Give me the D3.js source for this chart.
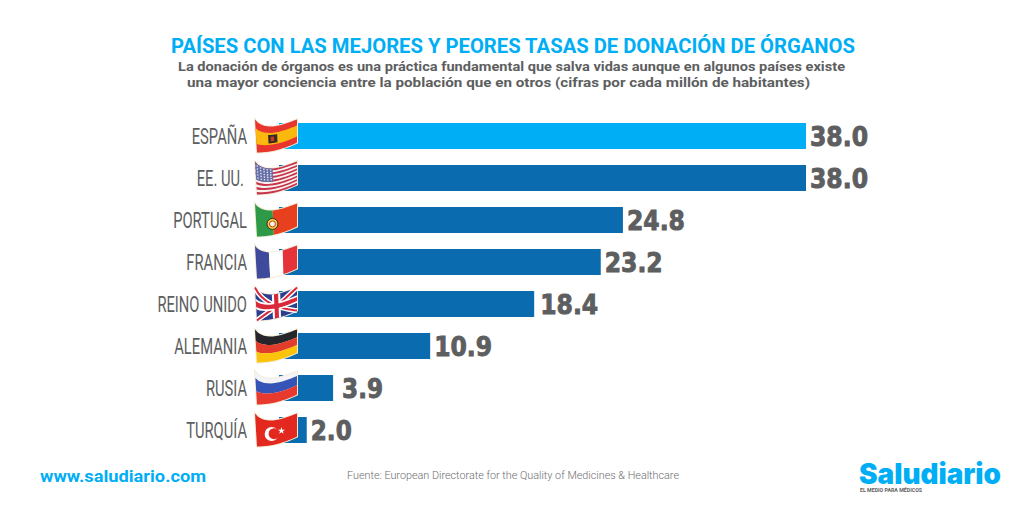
<!DOCTYPE html>
<html>
<head>
<meta charset="utf-8">
<script src="https://cdn.jsdelivr.net/npm/d3@7"></script>
<style>
html, body { margin: 0; padding: 0; background: #fff; overflow: hidden; }
svg { display: block; }
</style>
</head>
<body>
<svg id="chart" width="1024" height="512"></svg>
<script>
var countries = ["ESPAÑA", "EE. UU.", "PORTUGAL", "FRANCIA", "REINO UNIDO", "ALEMANIA", "RUSIA", "TURQUÍA"]
var rates = [38.0, 38.0, 24.8, 23.2, 18.4, 10.9, 3.9, 2.0]
var rateLabels = ["38.0", "38.0", "24.8", "23.2", "18.4", "10.9", "3.9", "2.0"]

var dimensions = {
    width: 1024,
    height: 512,
    barLeft: 279,
    barRight: 806,
    barTop: 123,
    barBottom: 443
}

var lightBlue = "#00aef5"
var darkBlue = "#0a6cae"
var gray = "#5d5e60"

var svg = d3.select("#chart")

var xScale = d3.scaleLinear()
    .domain([0, 38])
    .range([dimensions.barLeft, dimensions.barRight])

var yScale = d3.scaleBand()
    .domain(countries)
    .range([dimensions.barTop, dimensions.barBottom])
    .paddingInner(0.381)
    .paddingOuter(0)

// fixed-width text, widths measured on the reference
function addText(str, x, y, size, family, weight, fill, width, anchor) {
    var t = svg.append("text")
        .attr("x", x)
        .attr("y", y)
        .attr("font-size", size)
        .attr("font-family", family)
        .attr("font-weight", weight)
        .attr("fill", fill)
        .attr("text-anchor", anchor || "start")
        .text(str)
    if (width) {
        t.attr("textLength", width).attr("lengthAdjust", "spacingAndGlyphs")
    }
    return t
}

addText("PAÍSES CON LAS MEJORES Y PEORES TASAS DE DONACIÓN DE ÓRGANOS", 171, 52.5, 20, "Roboto", 700, lightBlue, 684)
addText("La donación de órganos es una práctica fundamental que salva vidas aunque en algunos países existe", 178, 71, 13, "Roboto", 700, gray, 667)
addText("una mayor conciencia entre la población que en otros (cifras por cada millón de habitantes)", 187, 87, 13, "Roboto", 700, gray, 623)

// bars
svg.append("g")
    .selectAll("rect")
    .data(countries)
    .enter()
    .append("rect")
    .attr("x", xScale(0))
    .attr("y", d => yScale(d))
    .attr("width", (d, i) => xScale(rates[i]) - xScale(0))
    .attr("height", yScale.bandwidth())
    .attr("fill", (d, i) => i == 0 ? lightBlue : darkBlue)

// country names, Roboto squeezed since no condensed face is installed
svg.append("g")
    .selectAll("text")
    .data(countries)
    .enter()
    .append("text")
    .attr("transform", d => "translate(" + (d == "EE. UU." ? 244 : 247) + "," + (yScale(d) + yScale.bandwidth() / 2 + 8) + ") scale(0.655,1)")
    .attr("text-anchor", "end")
    .attr("font-family", "Roboto")
    .attr("font-weight", 400)
    .attr("font-size", 22.5)
    .attr("fill", gray)
    .text(d => d)

// value labels
svg.append("g")
    .selectAll("text")
    .data(countries)
    .enter()
    .append("text")
    .attr("x", (d, i) => xScale(rates[i]) + (d == "RUSIA" ? 9 : d == "REINO UNIDO" ? 6 : 4))
    .attr("y", d => yScale(d) + yScale.bandwidth() / 2 + 10)
    .attr("font-family", "DejaVu Sans")
    .attr("font-weight", 700)
    .attr("font-size", 26)
    .attr("fill", gray)
    .attr("stroke", gray)
    .attr("stroke-width", 0.9)
    .attr("textLength", (d, i) => rateLabels[i].length == 4 ? 58 : 41)
    .attr("lengthAdjust", "spacingAndGlyphs")
    .text((d, i) => rateLabels[i])

// waving flags: u,v in 0..1 get warped around the row centre
function warp(row, u, v) {
    var cy = yScale(row) + yScale.bandwidth() / 2
    var top = -16.5 + 7 * Math.sin(Math.PI * Math.pow(u, 0.7))
    var bottom = 16.5 - 10 * u * u
    return [xScale(0) - 24 + 42 * u + 2 * v * (1 - u), cy + top + (bottom - top) * v]
}

function patch(row, u0, u1, v0, v1) {
    var pts = [], n = 14
    for (var i = 0; i <= n; i++) pts.push(warp(row, u0 + (u1 - u0) * i / n, v0))
    for (var j = n; j >= 0; j--) pts.push(warp(row, u0 + (u1 - u0) * j / n, v1))
    return d3.line()(pts) + "Z"
}

var flagLayer = svg.append("g")

function rectOn(row, u0, u1, v0, v1, fill) {
    flagLayer.append("path")
        .attr("d", patch(row, u0, u1, v0, v1))
        .attr("fill", fill)
}

function lineOn(row, pts, width, color) {
    var n = 14, curve = []
    for (var i = 0; i <= n; i++) {
        var t = i / n
        curve.push(warp(row, pts[0][0] + (pts[1][0] - pts[0][0]) * t, pts[0][1] + (pts[1][1] - pts[0][1]) * t))
    }
    flagLayer.append("path")
        .attr("d", d3.line()(curve))
        .attr("fill", "none")
        .attr("stroke", color)
        .attr("stroke-width", width)
}

function dotOn(row, u, v, r, fill, stroke, sw) {
    var p = warp(row, u, v)
    flagLayer.append("circle")
        .attr("cx", p[0])
        .attr("cy", p[1])
        .attr("r", r)
        .attr("fill", fill)
        .attr("stroke", stroke || "none")
        .attr("stroke-width", sw || 0)
}

// pale outline behind every flag
countries.forEach(function(c) {
    flagLayer.append("path")
        .attr("d", patch(c, 0, 1, 0, 1))
        .attr("fill", "#f4ecd8")
        .attr("stroke", "#f4ecd8")
        .attr("stroke-width", 2)
})

// España
rectOn("ESPAÑA", 0, 1, 0, 1, "#e8352e")
rectOn("ESPAÑA", 0, 1, 0.26, 0.74, "#fbb80f")
rectOn("ESPAÑA", 0.3, 0.52, 0.34, 0.68, "#3a2a20")
rectOn("ESPAÑA", 0.36, 0.44, 0.42, 0.6, "#c8392b")

// EE. UU.
rectOn("EE. UU.", 0, 1, 0, 1, "#f7f3f0")
d3.range(0, 13, 2).forEach(function(s) {
    rectOn("EE. UU.", 0, 1, s / 13, (s + 1) / 13, "#c8344a")
})
rectOn("EE. UU.", 0, 0.42, 0, 7 / 13, "#6670a8")
d3.range(0, 5).forEach(function(a) {
    d3.range(0, 5).forEach(function(b) {
        dotOn("EE. UU.", 0.05 + a * 0.08, 0.06 + b * 0.1, 0.8, "#e8e8f2")
    })
})

// Portugal
rectOn("PORTUGAL", 0, 0.42, 0, 1, "#2e9a48")
rectOn("PORTUGAL", 0.42, 1, 0, 1, "#e8401f")
dotOn("PORTUGAL", 0.4, 0.55, 5.5, "#f4d23c", "#3a2a20", 1)
dotOn("PORTUGAL", 0.4, 0.55, 3, "#f5f2ea", "#c8392b", 1)

// Francia
rectOn("FRANCIA", 0, 0.33, 0, 1, "#3f4a9c")
rectOn("FRANCIA", 0.33, 0.66, 0, 1, "#ffffff")
rectOn("FRANCIA", 0.66, 1, 0, 1, "#e5333a")

// Reino Unido
rectOn("REINO UNIDO", 0, 1, 0, 1, "#2c3f8f")
lineOn("REINO UNIDO", [[0, 0], [1, 1]], 5, "#ffffff")
lineOn("REINO UNIDO", [[0, 1], [1, 0]], 5, "#ffffff")
lineOn("REINO UNIDO", [[0, 0], [1, 1]], 2, "#d9283a")
lineOn("REINO UNIDO", [[0, 1], [1, 0]], 2, "#d9283a")
rectOn("REINO UNIDO", 0.4, 0.6, 0, 1, "#ffffff")
rectOn("REINO UNIDO", 0, 1, 0.34, 0.66, "#ffffff")
rectOn("REINO UNIDO", 0.45, 0.55, 0, 1, "#d9283a")
rectOn("REINO UNIDO", 0, 1, 0.41, 0.59, "#d9283a")

// Alemania
rectOn("ALEMANIA", 0, 1, 0, 0.34, "#26262a")
rectOn("ALEMANIA", 0, 1, 0.34, 0.67, "#e23c2c")
rectOn("ALEMANIA", 0, 1, 0.67, 1, "#fcc30b")

// Rusia, the white band is thin in the reference
rectOn("RUSIA", 0, 1, 0, 0.2, "#f3f3f8")
rectOn("RUSIA", 0, 1, 0.2, 0.6, "#3454b8")
rectOn("RUSIA", 0, 1, 0.6, 1, "#e8392e")

// Turquía
rectOn("TURQUÍA", 0, 1, 0, 1, "#e2281f")
dotOn("TURQUÍA", 0.38, 0.55, 7, "#ffffff")
dotOn("TURQUÍA", 0.44, 0.55, 5.5, "#e2281f")
var star = warp("TURQUÍA", 0.62, 0.5)
flagLayer.append("path")
    .attr("d", d3.symbol().type(d3.symbolStar).size(16)())
    .attr("transform", "translate(" + star[0] + "," + star[1] + ")")
    .attr("fill", "#ffffff")

// footer
addText("www.saludiario.com", 40, 482, 16, "Roboto", 700, lightBlue, 166)
addText("Fuente: European Directorate for the Quality of Medicines & Healthcare", 347, 479, 11.5, "Roboto", 300, "#6d6e71", 332)
addText("Saludiario", 859, 484, 28, "Inter", 900, lightBlue, 142)
addText("EL MEDIO PARA MÉDICOS", 860, 492, 4.5, "Roboto", 700, gray, 62)
</script>
</body>
</html>
